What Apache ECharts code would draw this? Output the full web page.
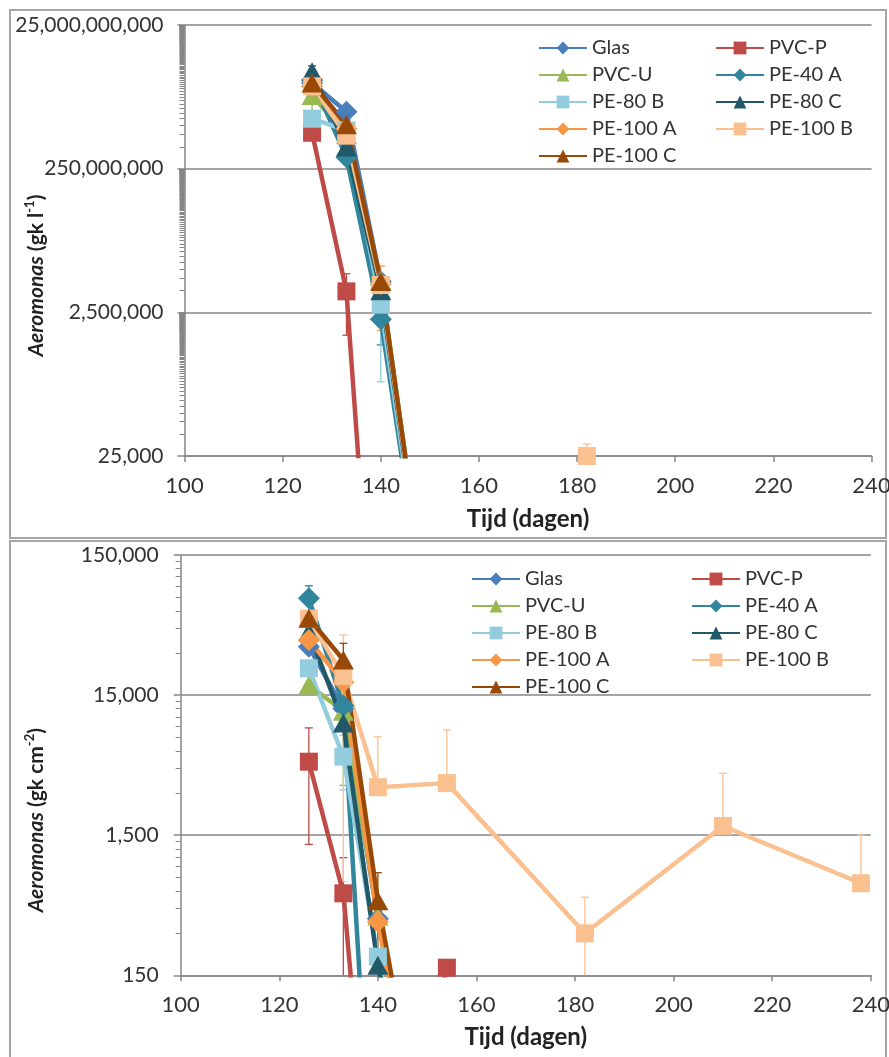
<!DOCTYPE html>
<html><head><meta charset="utf-8">
<script src="https://cdn.jsdelivr.net/npm/echarts@6/dist/echarts.min.js"></script>
<style>html,body{margin:0;padding:0;background:#fff}#c{width:889px;height:1057px}</style>
</head><body><div id="c"></div>
<script>
// ---------- categories / styles ----------
const seriesNames = ['Glas','PVC-P','PVC-U','PE-40 A','PE-80 B','PE-80 C','PE-100 A','PE-100 B','PE-100 C'];
const seriesColors = ['#4A7EBB','#BE4B48','#98B954','#31859C','#93CDDD','#215968','#F79646','#FAC090','#984807'];
const seriesSymbols = ['diamond','rect','triangle','diamond','rect','triangle','diamond','rect','triangle'];
const daysShort = [126,133,140,154];
const daysPVCPBottom = [126,133,140,154];
const daysLong = [126,133,140,154,182,210,238];
const xTicks = [100,120,140,160,180,200,220,240];
const topTickLabels = ['25,000','2,500,000','250,000,000','25,000,000,000'];
const bottomTickLabels = ['150','1,500','15,000','150,000'];

// ---------- top chart: Aeromonas (gk l-1) ----------
const topGlas   = [3.9e9, 1.55e9, 6.7e6, 1];
const topPVCP   = [7.9e8, 4.9e6, 1, 1];
const topPVCU   = [2.6e9, 7.5e8, 7.0e6, 1];
const topPE40A  = [4.3e9, 3.6e8, 2.0e6, 1];
const topPE80B  = [1.24e9, 8.5e8, 3.2e6, 1];
const topPE80C  = [5.6e9, 5.0e8, 5.0e6, 1];
const topPE100A = [3.5e9, 9.0e8, 6.2e6, 1];
const topPE100B = [3.5e9, 7.2e8, 6.0e6, 1, 25000, 1, 1];
const topPE100C = [3.9e9, 1.02e9, 6.7e6, 1];
// standard deviations (null = bar not visible)
const topSdPVCP   = [null, 3.7e6, null, null];
const topSdPVCU   = [1.1e9, null, null, null];
const topSdPE40A  = [null, null, 1.12e6, null];
const topSdPE80B  = [null, null, 2.93e6, null];
const topSdPE80C  = [1.14e9, null, null, null];
const topSdPE100A = [null, null, 4.8e6, null];
const topSdPE100B = [null, null, null, null, 11700, null, null];

// ---------- bottom chart: Aeromonas (gk cm-2) ----------
const botGlas   = [33200, 12000, 380, 1];
const botPVCP   = [5020, 577, 1, 170];
const botPVCU   = [17700, 11500, 398, 1];
const botPE40A  = [73600, 12600, 1, 1];
const botPE80B  = [23300, 5450, 204, 1];
const botPE80C  = [42300, 9500, 177, 1];
const botPE100A = [37100, 18500, 362, 1];
const botPE100B = [52700, 20500, 3300, 3530, 299, 1746, 681];
const botPE100C = [53000, 26700, 511, 1];
const botSdPVCP   = [3730, 460, null, null];
const botSdPVCU   = [null, 8100, null, null];
const botSdPE40A  = [16800, null, null, null];
const botSdPE80B  = [null, 2290, null, null];
const botSdPE100B = [null, 19800, 4270, 4920, 242, 2400, 824];
const botSdPE100C = [null, 8400, 300, null];

// ---------- assembly ----------
const TOP_SCALE = 2.5;   // log axis ticks at 2.5 x 100^n
const BOT_SCALE = 1.5;   // log axis ticks at 1.5 x 10^n
const topVals = [topGlas, topPVCP, topPVCU, topPE40A, topPE80B, topPE80C, topPE100A, topPE100B, topPE100C];
const topDays = [daysShort, daysShort, daysShort, daysShort, daysShort, daysShort, daysShort, daysLong, daysShort];
const topSds  = [null, topSdPVCP, topSdPVCU, topSdPE40A, topSdPE80B, topSdPE80C, topSdPE100A, topSdPE100B, null];
const botVals = [botGlas, botPVCP, botPVCU, botPE40A, botPE80B, botPE80C, botPE100A, botPE100B, botPE100C];
const botDays = [daysShort, daysPVCPBottom, daysShort, daysShort, daysShort, daysShort, daysShort, daysLong, daysShort];
const botSds  = [null, botSdPVCP, botSdPVCU, botSdPE40A, botSdPE80B, null, null, botSdPE100B, botSdPE100C];

// minor tick positions of the log axes (k x each major, as in the spreadsheet)
function minorTicks(majors, kMax) {
  const out = [];
  majors.forEach(m => { for (let k = 2; k <= kMax; k++) out.push(m * k); });
  return out;
}
const topMinor = minorTicks([1e4, 1e6, 1e8], 99);
const botMinor = minorTicks([100, 1000, 10000], 9);

const FONT = 'Lato';
const TXT = '#333333';
const AX = '#868686';
const fmt = v => Math.round(v).toString().replace(/\B(?=(\d{3})+(?!\d))/g, ',');

function errRender(color) {
  return function (params, api) {
    const x = api.value(0), m = api.value(1), sd = api.value(2);
    const cs = params.coordSys;
    const top = cs.y, bot = cs.y + cs.height;
    const clampY = y => Math.max(top, Math.min(bot, y));
    const p = api.coord([x, m]);
    const kids = [];
    const st = {stroke: color, lineWidth: 1.3};
    const hi = api.coord([x, m + sd]);
    kids.push({type: 'line', shape: {x1: p[0], y1: clampY(p[1]), x2: p[0], y2: clampY(hi[1])}, style: st});
    if (hi[1] >= top && hi[1] <= bot) kids.push({type: 'line', shape: {x1: p[0] - 4, y1: hi[1], x2: p[0] + 4, y2: hi[1]}, style: st});
    if (m - sd > 0) {
      const lo = api.coord([x, m - sd]);
      kids.push({type: 'line', shape: {x1: p[0], y1: clampY(p[1]), x2: p[0], y2: clampY(lo[1])}, style: st});
      if (lo[1] >= top && lo[1] <= bot) kids.push({type: 'line', shape: {x1: p[0] - 4, y1: lo[1], x2: p[0] + 4, y2: lo[1]}, style: st});
    }
    return {type: 'group', children: kids};
  };
}

const series = [];
function addChart(vals, days, sds, scale, gi) {
  vals.forEach((arr, i) => {
    series.push({
      type: 'line', name: seriesNames[i], xAxisIndex: gi, yAxisIndex: gi,
      data: arr.map((v, j) => [days[i][j], v / scale]),
      symbol: seriesSymbols[i],
      symbolSize: seriesSymbols[i] === 'rect' ? 18 : (seriesSymbols[i] === 'diamond' ? 22 : [21, 19]),
      showAllSymbol: true, clip: true, z: 3,
      lineStyle: {width: 4.5, color: seriesColors[i]},
      itemStyle: {color: seriesColors[i], borderWidth: 0}
    });
  });
  sds.forEach((sd, i) => {
    if (!sd) return;
    const d = [];
    sd.forEach((s, j) => { if (s != null) d.push([days[i][j], vals[i][j] / scale, s / scale]); });
    series.push({
      type: 'custom', name: seriesNames[i], xAxisIndex: gi, yAxisIndex: gi, z: 2,
      renderItem: errRender(seriesColors[i]), encode: {x: 0, y: 1}, data: d, silent: true
    });
  });
}
addChart(topVals, topDays, topSds, TOP_SCALE, 0);
addChart(botVals, botDays, botSds, BOT_SCALE, 1);

function xAxis(gi, nameGap) {
  return {
    type: 'value', gridIndex: gi, min: 100, max: 240, interval: 20,
    name: 'Tijd (dagen)', nameLocation: 'middle', nameGap: nameGap, nameMoveOverlap: false,
    nameTextStyle: {fontFamily: FONT, fontSize: 24, fontWeight: 'bold', color: '#222'},
    axisLine: {show: true, lineStyle: {color: AX, width: 1.5}},
    axisTick: {show: true, length: 6, lineStyle: {color: AX, width: 1.5}},
    axisLabel: {fontFamily: FONT, fontSize: 22, color: TXT, margin: 19},
    splitLine: {show: false}
  };
}
function yAxis(gi, base, min, max, scale, name, padR, nameGap, labMargin) {
  return {
    type: 'log', gridIndex: gi, logBase: base, min: min, max: max,
    name: name, nameLocation: 'middle', nameGap: nameGap, nameMoveOverlap: false,
    nameTextStyle: {
      fontFamily: FONT, fontSize: 21, fontWeight: 'bold', color: '#222', padding: [0, padR, 0, 0],
      rich: {
        i: {fontFamily: FONT, fontSize: 21, fontWeight: 'bold', fontStyle: 'italic', color: '#222'},
        b: {fontFamily: FONT, fontSize: 21, fontWeight: 'bold', color: '#222'},
        s: {fontFamily: FONT, fontSize: 13, fontWeight: 'bold', color: '#222', padding: [0, 0, 12, 0]}
      }
    },
    axisLine: {show: true, lineStyle: {color: AX, width: 1.5}},
    axisTick: {show: true, length: 7, lineStyle: {color: AX, width: 1.5}},
    axisLabel: {fontFamily: FONT, fontSize: 21, color: TXT, margin: labMargin, formatter: v => fmt(v * scale)},
    splitLine: {show: true, lineStyle: {color: AX, width: 1.5}}
  };
}
function minorAxis(gi, base, min, max, values) {
  return {
    type: 'log', gridIndex: gi, logBase: base, min: min, max: max, position: 'left',
    axisLine: {show: false}, splitLine: {show: false}, axisLabel: {show: false},
    axisTick: {show: true, length: 5, customValues: values, lineStyle: {color: AX, width: 1}}
  };
}

const option = {
  animation: false,
  backgroundColor: '#ffffff',
  grid: [
    {left: 184.5, right: 17.5, top: 25, bottom: 1057 - 456, containLabel: false, outerBoundsMode: 'none'},
    {left: 180.7, right: 18.2, top: 555, bottom: 1057 - 975.3, containLabel: false, outerBoundsMode: 'none'}
  ],
  xAxis: [xAxis(0, 51), xAxis(1, 50)],
  yAxis: [
    yAxis(0, 100, 1e4, 1e10, TOP_SCALE, '{i|Aeromonas} {b|(gk l}{s|-1}{b|)}', 70, 136, 21),
    yAxis(1, 10, 100, 1e5, BOT_SCALE, '{i|Aeromonas} {b|(gk cm}{s|-2}{b|)}', 110, 132, 22),
    minorAxis(0, 100, 1e4, 1e10, topMinor),
    minorAxis(1, 10, 100, 1e5, botMinor)
  ],
  legend: [
    legendCol(['Glas','PVC-U','PE-80 B','PE-100 A','PE-100 C'], 533, 33),
    legendCol(['PVC-P','PE-40 A','PE-80 C','PE-100 B'], 710, 33),
    legendCol(['Glas','PVC-U','PE-80 B','PE-100 A','PE-100 C'], 466, 564),
    legendCol(['PVC-P','PE-40 A','PE-80 C','PE-100 B'], 686, 564)
  ],
  graphic: [
    {type: 'rect', shape: {x: 10, y: 10, width: 876, height: 528}, style: {fill: 'none', stroke: '#A6A6A6', lineWidth: 2}, silent: true, z: -1},
    {type: 'rect', shape: {x: 10, y: 541, width: 876, height: 530}, style: {fill: 'none', stroke: '#A6A6A6', lineWidth: 2}, silent: true, z: -1}
  ],
  series: series
};
function legendCol(names, left, top) {
  return {
    data: names, orient: 'vertical', left: left, top: top, itemWidth: 48, itemHeight: 16, itemGap: 7,
    selectedMode: false,
    textStyle: {fontFamily: FONT, fontSize: 20, color: TXT, lineHeight: 20}
  };
}
const chart = echarts.init(document.getElementById('c'), null, {renderer: 'canvas'});
chart.setOption(option);
</script></body></html>
